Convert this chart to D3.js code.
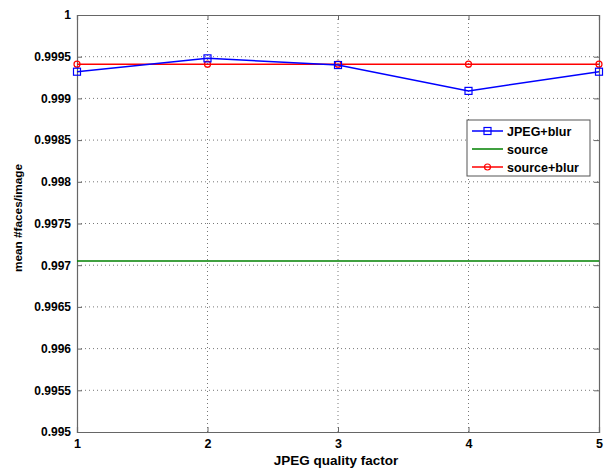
<!DOCTYPE html>
<html><head><meta charset="utf-8">
<script src="https://cdn.jsdelivr.net/npm/d3@7"></script>
<style>
body{margin:0;background:#fff;}
text{font-family:"Liberation Sans",Arial,sans-serif;font-weight:bold;}
</style></head>
<body><svg id="c" width="614" height="468"></svg>
<script>
const xValues = [1, 2, 3, 4, 5];
const jpegBlur = [0.99932, 0.99948, 0.99940, 0.99909, 0.99932];
const source = [0.99705, 0.99705, 0.99705, 0.99705, 0.99705];
const sourceBlur = [0.99941, 0.99941, 0.99941, 0.99941, 0.99941];
const yTicks = [0.995, 0.9955, 0.996, 0.9965, 0.997, 0.9975, 0.998, 0.9985, 0.999, 0.9995, 1];
const yTickLabels = ["0.995","0.9955","0.996","0.9965","0.997","0.9975","0.998","0.9985","0.999","0.9995","1"];
const seriesNames = ["JPEG+blur", "source", "source+blur"];

const svg = d3.select("#c");
const L = 77, R = 599, T = 15, B = 432;
const x = d3.scaleLinear().domain([1, 5]).range([L, R]);
const y = d3.scaleLinear().domain([0.995, 1]).range([B, T]);

// grid
const g = svg.append("g");
g.selectAll("line.vg").data(xValues.slice(1, -1)).enter().append("line")
  .attr("x1", d => x(d)).attr("x2", d => x(d)).attr("y1", T).attr("y2", B)
  .attr("stroke", "#555").attr("stroke-width", 0.8).attr("stroke-dasharray", "1,3");
g.selectAll("line.hg").data(yTicks.slice(1, -1)).enter().append("line")
  .attr("x1", L).attr("x2", R).attr("y1", d => y(d)).attr("y2", d => y(d))
  .attr("stroke", "#555").attr("stroke-width", 0.8).attr("stroke-dasharray", "1,3");

// axes
const xAxis = d3.axisBottom(x).tickValues(xValues).tickFormat(d3.format("d")).tickSize(-5).tickPadding(7);
const yAxis = d3.axisLeft(y).tickValues(yTicks).tickFormat((d, i) => yTickLabels[i]).tickSize(-5).tickPadding(6);
const gx = svg.append("g").attr("transform", `translate(0,${B})`).call(xAxis);
const gy = svg.append("g").attr("transform", `translate(${L},0)`).call(yAxis);
const gx2 = svg.append("g").attr("transform", `translate(0,${T})`).call(d3.axisTop(x).tickValues(xValues).tickFormat("").tickSize(-5));
const gy2 = svg.append("g").attr("transform", `translate(${R},0)`).call(d3.axisRight(y).tickValues(yTicks).tickFormat("").tickSize(-5));
[gx, gy, gx2, gy2].forEach(a => {
  a.select(".domain").attr("stroke", "#666").attr("stroke-width", 1.2);
  a.selectAll(".tick line").attr("stroke", "#666");
  a.selectAll("text").attr("fill", "#000").attr("font-size", 12).attr("font-weight", "bold")
    .attr("font-family", '"Liberation Sans",Arial,sans-serif');
});
gx.selectAll("text").attr("font-size", 12.5);

// lines
const line = d3.line().x((d, i) => x(xValues[i])).y(d => y(d));
svg.append("path").datum(source).attr("d", line).attr("fill", "none").attr("stroke", "#008000").attr("stroke-width", 1.5);
svg.append("path").datum(sourceBlur).attr("d", line).attr("fill", "none").attr("stroke", "#ff0000").attr("stroke-width", 1.5);
svg.selectAll("circle.sb").data(sourceBlur).enter().append("circle")
  .attr("cx", (d, i) => x(xValues[i])).attr("cy", d => y(d)).attr("r", 3)
  .attr("fill", "none").attr("stroke", "#ff0000").attr("stroke-width", 1.2);
svg.append("path").datum(jpegBlur).attr("d", line).attr("fill", "none").attr("stroke", "#0000ff").attr("stroke-width", 1.5);
svg.selectAll("rect.jb").data(jpegBlur).enter().append("rect")
  .attr("x", (d, i) => x(xValues[i]) - 3.5).attr("y", d => y(d) - 3.5).attr("width", 7).attr("height", 7)
  .attr("fill", "none").attr("stroke", "#0000ff").attr("stroke-width", 1.2);

// labels
svg.append("text").attr("x", 336).attr("y", 465).attr("text-anchor", "middle").attr("font-size", 13.5).text("JPEG quality factor");
svg.append("text").attr("transform", `translate(22,218) rotate(-90)`).attr("text-anchor", "middle").attr("font-size", 11.8).text("mean #faces/image");

// legend
const lg = svg.append("g");
lg.append("rect").attr("x", 467).attr("y", 120).attr("width", 123).attr("height", 56).attr("fill", "#fff").attr("stroke", "#555").attr("stroke-width", 1);
const colors = ["#0000ff", "#008000", "#ff0000"];
seriesNames.forEach((name, i) => {
  const yy = 131 + i * 18;
  lg.append("line").attr("x1", 472).attr("x2", 503).attr("y1", yy).attr("y2", yy).attr("stroke", colors[i]).attr("stroke-width", 1.5);
  if (i === 0) lg.append("rect").attr("x", 484).attr("y", yy - 3.5).attr("width", 7).attr("height", 7).attr("fill", "none").attr("stroke", colors[i]).attr("stroke-width", 1.2);
  if (i === 2) lg.append("circle").attr("cx", 487.5).attr("cy", yy).attr("r", 3).attr("fill", "none").attr("stroke", colors[i]).attr("stroke-width", 1.2);
  lg.append("text").attr("x", 507).attr("y", yy + 4.5).attr("font-size", 12.5).text(name);
});
</script></body></html>
